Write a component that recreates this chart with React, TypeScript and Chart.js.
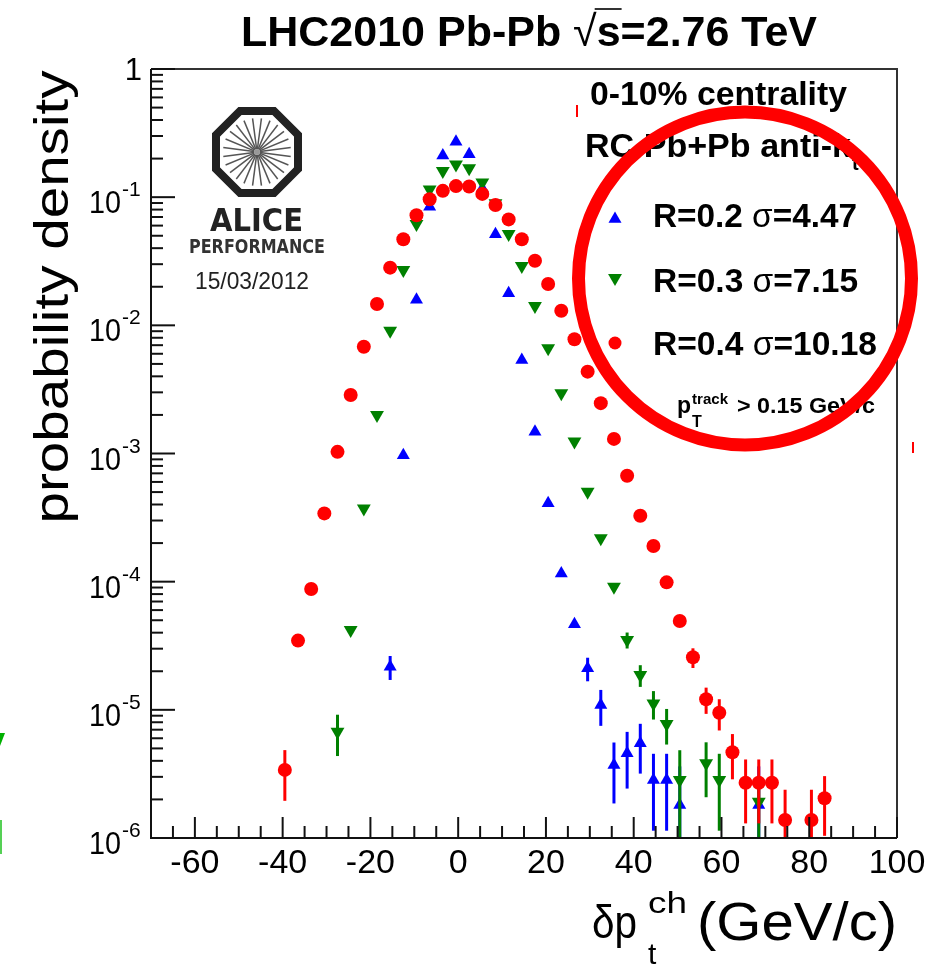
import React, { useEffect, useRef } from 'react';
import { Chart, registerables } from 'chart.js';

Chart.register(...registerables);

// ---------------- data ----------------
const blueX = [-15.5, -12.5, -9.5, -6.5, -3.5, -0.5, 2.5, 5.5, 8.5, 11.5, 14.5, 17.5, 20.5, 23.5, 26.5, 29.5, 32.5, 35.5, 38.5, 41.5, 44.5, 47.5, 50.5, 68.5];
const blueY = [2.17e-5, 9.7e-4, 0.0158, 0.0843, 0.211, 0.271, 0.216, 0.117, 0.0513, 0.0178, 0.00537, 0.00148, 4.09e-4, 1.16e-4, 4.65e-5, 2.11e-5, 1.09e-5, 3.71e-6, 4.58e-6, 5.48e-6, 2.84e-6, 2.84e-6, 1.81e-6, 1.81e-6];
const blueErr = [4.6e-6, 2.2e-5, 9e-5, 2e-4, 3e-4, 3.5e-4, 3e-4, 2e-4, 1.3e-4, 7e-5, 4e-5, 2e-5, 1e-5, 5e-6, 2.8e-6, 4.4e-6, 3.4e-6, 1.85e-6, 2.15e-6, 2.3e-6, 1.7e-6, 1.7e-6, 1.81e-6, 1.81e-6];

const greenX = [-27.5, -24.5, -21.5, -18.5, -15.5, -12.5, -9.5, -6.5, -3.5, -0.5, 2.5, 5.5, 8.5, 11.5, 14.5, 17.5, 20.5, 23.5, 26.5, 29.5, 32.5, 35.5, 38.5, 41.5, 44.5, 47.5, 50.5, 56.5, 59.5, 68.5];
const greenY = [6.76e-6, 4.2e-5, 3.73e-4, 0.002, 0.00908, 0.027, 0.0618, 0.115, 0.16, 0.18, 0.168, 0.13, 0.0895, 0.0516, 0.029, 0.01416, 0.00662, 0.00295, 0.00124, 5.04e-4, 2.18e-4, 9.13e-5, 3.51e-5, 1.87e-5, 1.12e-5, 7.76e-6, 2.84e-6, 3.83e-6, 2.84e-6, 1.92e-6];
const greenErr = [2.4e-6, 3e-6, 1.2e-5, 4e-5, 9e-5, 1.5e-4, 2.2e-4, 3e-4, 3.6e-4, 3.8e-4, 3.7e-4, 3.2e-4, 2.7e-4, 2e-4, 1.5e-4, 1e-4, 7e-5, 4.5e-5, 2.5e-5, 1.5e-5, 8e-6, 4e-6, 5e-6, 3.6e-6, 2.8e-6, 2.4e-6, 2.0e-6, 1.75e-6, 1.7e-6, 1.0e-6];

const redX = [-39.5, -36.5, -33.5, -30.5, -27.5, -24.5, -21.5, -18.5, -15.5, -12.5, -9.5, -6.5, -3.5, -0.5, 2.5, 5.5, 8.5, 11.5, 14.5, 17.5, 20.5, 23.5, 26.5, 29.5, 32.5, 35.5, 38.5, 41.5, 44.5, 47.5, 50.5, 53.5, 56.5, 59.5, 62.5, 65.5, 68.5, 71.5, 74.5, 80.5, 83.5];
const redY = [3.4e-6, 3.47e-5, 8.77e-5, 3.41e-4, 1.03e-3, 2.86e-3, 6.81e-3, 0.01466, 0.0282, 0.0469, 0.0722, 0.0962, 0.112, 0.122, 0.121, 0.106, 0.0869, 0.0671, 0.0469, 0.0319, 0.021, 0.013, 7.78e-3, 4.35e-3, 2.47e-3, 1.3e-3, 6.71e-4, 3.27e-4, 1.9e-4, 9.88e-5, 4.93e-5, 2.57e-5, 1.21e-5, 9.5e-6, 4.67e-6, 2.7e-6, 2.7e-6, 2.7e-6, 1.38e-6, 1.38e-6, 2.04e-6];
const redErr = [1.45e-6, 2e-6, 3e-6, 8e-6, 1.5e-5, 3e-5, 5e-5, 8e-5, 1.1e-4, 1.4e-4, 1.8e-4, 2e-4, 2.2e-4, 2.3e-4, 2.3e-4, 2.1e-4, 1.9e-4, 1.7e-4, 1.4e-4, 1.2e-4, 1e-4, 7e-5, 5e-5, 4e-5, 2.8e-5, 2e-5, 1.4e-5, 1e-5, 7e-6, 5e-6, 3.5e-6, 4.5e-6, 2.8e-6, 2.6e-6, 1.8e-6, 1.4e-6, 1.4e-6, 1.4e-6, 1.0e-6, 1.0e-6, 1.0e-6];

const seriesLabels = ['R=0.2 ', 'R=0.3 ', 'R=0.4 '];
const seriesSigma = ['=4.47', '=7.15', '=10.18'];

const xTickValues = [-60, -40, -20, 0, 20, 40, 60, 80, 100];
const xMinorTicks = [-65, -55, -50, -45, -35, -30, -25, -15, -10, -5, 5, 10, 15, 25, 30, 35, 45, 50, 55, 65, 70, 75, 85, 90, 95];
const yTickExponents = [0, -1, -2, -3, -4, -5, -6];
const yMinorMantissas = [2, 3, 4, 5, 6, 7, 8, 9];

// ---------------- styling ----------------
const BLUE = '#0000ff';
const GREEN = '#008000';
const RED = '#ff0000';
const FONT = '"Liberation Sans", Arial, Helvetica, sans-serif';

function fitText(ctx: CanvasRenderingContext2D, s: string, font: string, x: number, y: number, opts: { w?: number; align?: string; color?: string; sx?: number; sy?: number } = {}) {
  ctx.save();
  ctx.font = font;
  const nat = ctx.measureText(s).width;
  const sx = opts.w ? opts.w / nat : (opts.sx ?? 1);
  const w = nat * sx;
  let left = x;
  if (opts.align === 'center') left = x - w / 2;
  else if (opts.align === 'right') left = x - w;
  ctx.translate(left, y);
  ctx.scale(sx, opts.sy ?? 1);
  ctx.fillStyle = opts.color ?? '#000';
  ctx.textAlign = 'left';
  ctx.textBaseline = 'alphabetic';
  ctx.fillText(s, 0, 0);
  ctx.restore();
  return { left, right: left + w };
}

function runsText(ctx: CanvasRenderingContext2D, runs: { s: string; font: string }[], x: number, y: number, w: number, color = '#000', sy = 1) {
  const widths = runs.map((r) => { ctx.font = r.font; return ctx.measureText(r.s).width; });
  const total = widths.reduce((a, b) => a + b, 0);
  const sx = w / total;
  let cx = x;
  const pos: number[][] = [];
  runs.forEach((r, i) => {
    ctx.save();
    ctx.font = r.font;
    ctx.fillStyle = color;
    ctx.textAlign = 'left';
    ctx.textBaseline = 'alphabetic';
    ctx.translate(cx, y);
    ctx.scale(sx, sy);
    ctx.fillText(r.s, 0, 0);
    ctx.restore();
    pos.push([cx, cx + widths[i] * sx]);
    cx += widths[i] * sx;
  });
  return pos;
}

function marker(ctx: CanvasRenderingContext2D, kind: string, x: number, y: number, r: number, color: string) {
  ctx.save();
  ctx.fillStyle = color;
  ctx.beginPath();
  if (kind === 'circle') {
    ctx.arc(x, y, r, 0, Math.PI * 2);
  } else {
    const s = kind === 'up' ? 1 : -1;
    for (let k = 0; k < 3; k++) {
      const a = (k * 2 * Math.PI) / 3;
      const px = x + Math.sin(a) * r;
      const py = y - s * Math.cos(a) * r;
      if (k === 0) ctx.moveTo(px, py); else ctx.lineTo(px, py);
    }
    ctx.closePath();
  }
  ctx.fill();
  ctx.restore();
}

function drawLogo(ctx: CanvasRenderingContext2D) {
  const cx = 257, cy = 152, a = 41;
  const R = a / Math.cos(Math.PI / 8);
  ctx.save();
  ctx.strokeStyle = '#555';
  ctx.lineWidth = 1.5;
  for (let k = 0; k < 24; k++) {
    const t = (k * Math.PI) / 12 + Math.PI / 24;
    ctx.beginPath();
    ctx.moveTo(cx + 3 * Math.cos(t), cy + 3 * Math.sin(t));
    ctx.lineTo(cx + 34 * Math.cos(t), cy + 34 * Math.sin(t));
    ctx.stroke();
  }
  ctx.fillStyle = '#999';
  ctx.beginPath();
  ctx.arc(cx, cy, 3, 0, Math.PI * 2);
  ctx.fill();
  ctx.beginPath();
  for (let k = 0; k < 8; k++) {
    const ang = Math.PI / 8 + (k * Math.PI) / 4;
    const px = cx + R * Math.cos(ang);
    const py = cy + R * Math.sin(ang);
    if (k === 0) ctx.moveTo(px, py); else ctx.lineTo(px, py);
  }
  ctx.closePath();
  ctx.lineWidth = 8;
  ctx.lineJoin = 'miter';
  ctx.strokeStyle = '#222';
  ctx.stroke();
  ctx.restore();
  fitText(ctx, 'ALICE', 'bold 30px "DejaVu Sans", sans-serif', 210, 231, { w: 93, color: '#222', sy: 1.05 });
  fitText(ctx, 'PERFORMANCE', 'bold 20px "DejaVu Sans", sans-serif', 189, 253, { w: 136, color: '#333' });
  fitText(ctx, '15/03/2012', `24px ${FONT}`, 195, 289, { w: 114, color: '#222' });
}

const errorBarPlugin = {
  id: 'errorBars',
  beforeDatasetDraw(chart: any, args: any) {
    const ds = chart.data.datasets[args.index];
    const errs: number[] = ds.errs;
    if (!errs) return;
    const ys = chart.scales.y;
    const ca = chart.chartArea;
    const ctx: CanvasRenderingContext2D = chart.ctx;
    ctx.save();
    ctx.beginPath();
    ctx.rect(ca.left, ca.top, ca.right - ca.left, ca.bottom - ca.top);
    ctx.clip();
    ctx.strokeStyle = ds.borderColor;
    ctx.lineWidth = 3;
    args.meta.data.forEach((pt: any, i: number) => {
      const v = ds.data[i].y;
      const e = errs[i];
      const top = ys.getPixelForValue(v + e);
      const low = v - e;
      const bot = low > 0 ? ys.getPixelForValue(low) : ca.bottom + 10;
      if (Math.abs(bot - top) < 2) return;
      ctx.beginPath();
      ctx.moveTo(pt.x, top);
      ctx.lineTo(pt.x, bot);
      ctx.stroke();
    });
    ctx.restore();
  },
};

const rootPlugin = {
  id: 'rootStyle',
  afterDraw(chart: any) {
    const ctx: CanvasRenderingContext2D = chart.ctx;
    const ca = chart.chartArea;
    const xs = chart.scales.x;
    const ys = chart.scales.y;
    ctx.save();
    ctx.lineCap = 'butt';
    // frame
    ctx.lineWidth = 2;
    ctx.strokeStyle = '#333';
    ctx.beginPath();
    ctx.moveTo(ca.left, ca.top);
    ctx.lineTo(ca.right, ca.top);
    ctx.lineTo(ca.right, ca.bottom);
    ctx.stroke();
    ctx.strokeStyle = '#111';
    ctx.beginPath();
    ctx.moveTo(ca.left, ca.top);
    ctx.lineTo(ca.left, ca.bottom);
    ctx.lineTo(ca.right, ca.bottom);
    ctx.stroke();
    // x ticks
    const tick = (x1: number, y1: number, x2: number, y2: number) => {
      ctx.beginPath();
      ctx.moveTo(x1, y1);
      ctx.lineTo(x2, y2);
      ctx.stroke();
    };
    xTickValues.forEach((v) => { const p = xs.getPixelForValue(v); tick(p, ca.bottom, p, ca.bottom - 21); });
    xMinorTicks.forEach((v) => { const p = xs.getPixelForValue(v); tick(p, ca.bottom, p, ca.bottom - 12); });
    // y ticks
    yTickExponents.forEach((e) => {
      const p = ys.getPixelForValue(Math.pow(10, e));
      tick(ca.left, p, ca.left + 24, p);
      if (e < 0) {
        yMinorMantissas.forEach((m) => {
          const q = ys.getPixelForValue(m * Math.pow(10, e));
          tick(ca.left, q, ca.left + 12, q);
        });
      }
    });
    ctx.restore();

    // tick labels
    xTickValues.forEach((v) => {
      const p = xs.getPixelForValue(v);
      fitText(ctx, String(v), `34px ${FONT}`, p, ca.bottom + 35, { align: 'center' });
    });
    yTickExponents.forEach((e) => {
      const p = ys.getPixelForValue(Math.pow(10, e));
      if (e === 0) {
        fitText(ctx, '1', `31px ${FONT}`, 142, p + 11, { align: 'right' });
      } else {
        fitText(ctx, '10', `31px ${FONT}`, 121, p + 16, { align: 'right', w: 32 });
        fitText(ctx, String(e), `21px ${FONT}`, 122, p - 1);
      }
    });

    // axis titles
    ctx.save();
    ctx.translate(68, 297);
    ctx.rotate(-Math.PI / 2);
    fitText(ctx, 'probability density', `49px ${FONT}`, 0, 0, { align: 'center', w: 453 });
    ctx.restore();
    fitText(ctx, 'δp', `47px ${FONT}`, 592, 938, { w: 45 });
    fitText(ctx, 'ch', `30px ${FONT}`, 648, 913, { w: 39 });
    fitText(ctx, 't', `30px ${FONT}`, 648, 964);
    fitText(ctx, '(GeV/c)', `54px ${FONT}`, 697, 940, { w: 200 });

    // main title
    const tp = runsText(ctx, [
      { s: 'LHC2010 Pb-Pb ', font: `bold 39px ${FONT}` },
      { s: '√', font: `39px ${FONT}` },
      { s: 's', font: `bold 39px ${FONT}` },
      { s: '=2.76 TeV', font: `bold 39px ${FONT}` },
    ], 241, 46, 576, '#000', 1.1);
    ctx.save();
    ctx.strokeStyle = '#000';
    ctx.lineWidth = 1.6;
    ctx.beginPath();
    ctx.moveTo(tp[1][1] - 2, 9);
    ctx.lineTo(tp[2][1] + 1, 9);
    ctx.stroke();
    ctx.restore();

    // logo
    drawLogo(ctx);

    // legend / pave text
    fitText(ctx, '0-10% centrality', `bold 33px ${FONT}`, 590, 105, { w: 257 });
    fitText(ctx, 'RC Pb+Pb anti-k', `bold 33px ${FONT}`, 585, 157, { w: 266 });
    fitText(ctx, 't', `bold 20px ${FONT}`, 852, 170);
    const rows = [
      { y: 227, w: 204, kind: 'up', color: BLUE, r: 7.5, my: 219 },
      { y: 292, w: 205, kind: 'down', color: GREEN, r: 8, my: 278 },
      { y: 355, w: 224, kind: 'circle', color: RED, r: 6.5, my: 343 },
    ];
    rows.forEach((row, i) => {
      marker(ctx, row.kind, 615, row.my, row.r, row.color);
      runsText(ctx, [
        { s: seriesLabels[i], font: `bold 33px ${FONT}` },
        { s: 'σ', font: `33px ${FONT}` },
        { s: seriesSigma[i], font: `bold 33px ${FONT}` },
      ], 653, row.y, row.w);
    });
    fitText(ctx, 'p', `bold 23px ${FONT}`, 677, 413);
    fitText(ctx, 'track', `bold 15px ${FONT}`, 692, 404, { w: 36 });
    fitText(ctx, 'T', `bold 16px ${FONT}`, 692, 427);
    fitText(ctx, '> 0.15 GeV/c', `bold 22px ${FONT}`, 737, 413, { w: 138 });

    // annotation circle and small marks
    ctx.save();
    ctx.strokeStyle = RED;
    ctx.lineWidth = 13;
    ctx.beginPath();
    ctx.arc(745, 278.5, 166.5, 0, Math.PI * 2);
    ctx.stroke();
    ctx.lineWidth = 2;
    ctx.beginPath();
    ctx.moveTo(577, 105);
    ctx.lineTo(577, 117);
    ctx.moveTo(913, 442);
    ctx.lineTo(913, 453);
    ctx.stroke();
    // cropped fragments at the left edge
    ctx.fillStyle = '#00b000';
    ctx.beginPath();
    ctx.moveTo(0, 733);
    ctx.lineTo(5, 733);
    ctx.lineTo(0, 746);
    ctx.closePath();
    ctx.fill();
    ctx.fillStyle = '#55d055';
    ctx.fillRect(0, 820, 2, 34);
    ctx.restore();
  },
};

function pts(xs: number[], ys: number[]) {
  return xs.map((x, i) => ({ x, y: ys[i] }));
}

export default function App() {
  const ref = useRef<HTMLCanvasElement | null>(null);
  useEffect(() => {
    if (!ref.current) return;
    const chart = new Chart(ref.current, {
      type: 'scatter',
      data: {
        datasets: [
          {
            label: 'R=0.4',
            data: pts(redX, redY),
            errs: redErr,
            pointStyle: 'circle',
            pointRadius: 7,
            pointBorderWidth: 0,
            backgroundColor: RED,
            borderColor: RED,
            order: 0,
          } as any,
          {
            label: 'R=0.3',
            data: pts(greenX, greenY),
            errs: greenErr,
            pointStyle: 'triangle',
            rotation: 180,
            pointRadius: 8,
            pointBorderWidth: 0,
            backgroundColor: GREEN,
            borderColor: GREEN,
            order: 1,
          } as any,
          {
            label: 'R=0.2',
            data: pts(blueX, blueY),
            errs: blueErr,
            pointStyle: 'triangle',
            pointRadius: 7.5,
            pointBorderWidth: 0,
            backgroundColor: BLUE,
            borderColor: BLUE,
            order: 2,
          } as any,
        ],
      },
      options: {
        animation: false,
        responsive: false,
        devicePixelRatio: 1,
        events: [],
        layout: { autoPadding: false, padding: { top: 69, right: 34, left: 0, bottom: 0 } },
        plugins: { legend: { display: false }, tooltip: { enabled: false }, title: { display: false } },
        scales: {
          x: {
            type: 'linear',
            min: -70,
            max: 100,
            grid: { display: false },
            border: { display: false },
            ticks: { display: false },
            afterFit: (s: any) => { s.height = 128; },
          },
          y: {
            type: 'logarithmic',
            min: 1e-6,
            max: 1,
            grid: { display: false },
            border: { display: false },
            ticks: { display: false },
            afterFit: (s: any) => { s.width = 151; },
          },
        },
      } as any,
      plugins: [errorBarPlugin, rootPlugin],
    });
    return () => chart.destroy();
  }, []);
  return (
    <div style={{ position: 'absolute', left: 0, top: 0, width: 931, height: 966, background: '#fff' }}>
      <canvas ref={ref} width={931} height={966} style={{ display: 'block', width: 931, height: 966 }} />
    </div>
  );
}
